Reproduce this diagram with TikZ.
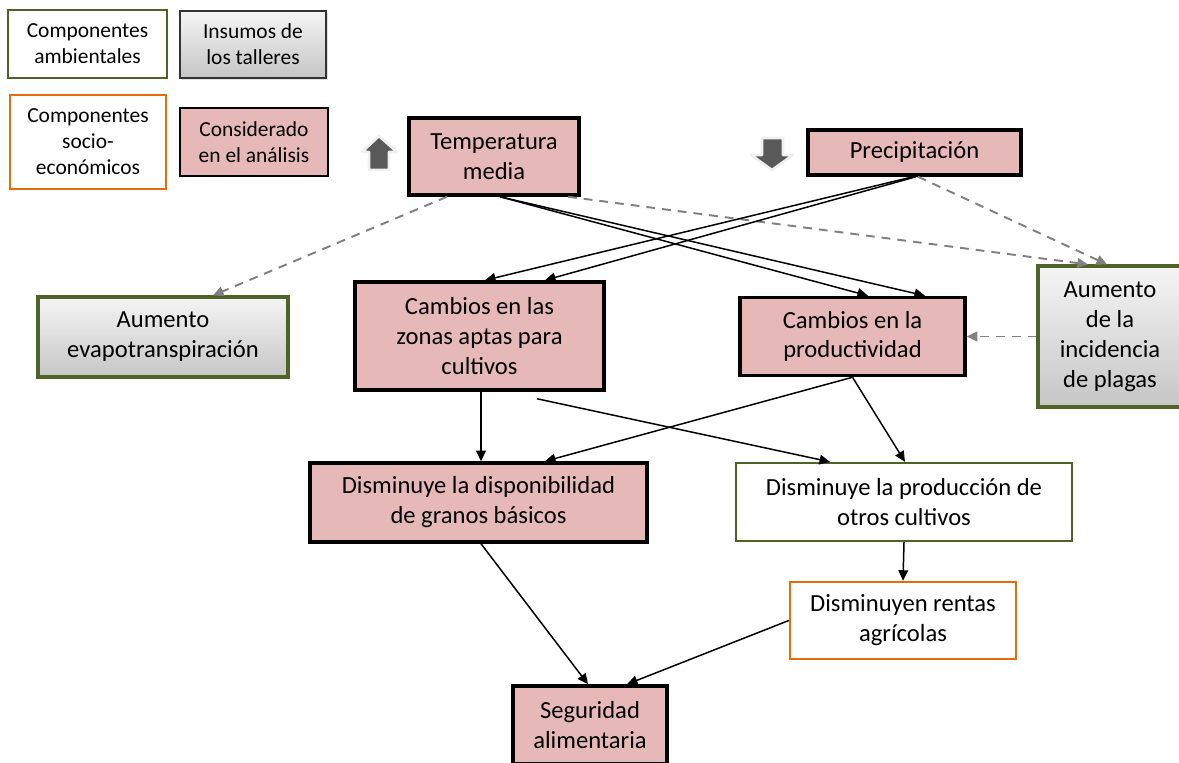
\documentclass[tikz,border=0pt]{standalone}
\usepackage{fontspec}
\setmainfont{Carlito}
\usetikzlibrary{arrows.meta,shadows}
\definecolor{rosa}{HTML}{E6B9B8}
\definecolor{verde}{HTML}{4F6228}
\definecolor{naranja}{HTML}{E46C0A}
\definecolor{flecha}{HTML}{595959}
\begin{document}
\begin{tikzpicture}[x=0.02cm, y=-0.02cm,
    caja/.style={align=center, inner sep=2pt, font=\fontsize{14}{17}\selectfont},
    leyenda/.style={align=center, inner sep=2pt, font=\fontsize{12.2}{14.8}\selectfont},
    rosabox/.style={fill=rosa, draw=black, line width=2pt},
    verdebox/.style={fill=white, draw=verde, line width=1.8pt},
    naranjabox/.style={fill=white, draw=naranja, line width=1.6pt},
    grisbox/.style={top color=gray!8, bottom color=gray!45, drop shadow={opacity=0.25, shadow xshift=1pt, shadow yshift=-1.2pt}},
    rel/.style={-{Triangle[length=6pt,width=5.5pt]}, black, line width=0.85pt},
    rela/.style={-{Triangle[length=6pt,width=5.5pt]}, gray, line width=1.1pt, dash pattern=on 5pt off 4pt}]
    \useasboundingbox (0,0) rectangle (1179,763);
    % leyenda
    \node[leyenda, verdebox, line width=1.6pt, minimum width=3.18cm, minimum height=1.36cm] (legamb) at (87.5,44) {Componentes\\ambientales};
    \node[leyenda, grisbox, draw=black!80, line width=0.6pt, minimum width=2.92cm, minimum height=1.34cm] (legins) at (253,44.5) {Insumos de\\los talleres};
    \node[leyenda, naranjabox, minimum width=3.12cm, minimum height=1.88cm] (legsoc) at (88,142) {Componentes\\socio-\\económicos};
    \node[leyenda, fill=rosa, draw=black, line width=0.7pt, minimum width=2.96cm, minimum height=1.36cm] (legcon) at (254,142) {Considerado\\en el análisis};
    % flechas de tendencia
    \filldraw[fill=flecha, draw=gray!12, line width=1.5pt, line join=round] (379,136) -- (397,152) -- (389,152) -- (389,170) -- (369,170) -- (369,152) -- (362,152) -- cycle;
    \filldraw[fill=flecha, draw=gray!12, line width=1.5pt, line join=round] (772,170) -- (793,155) -- (783,155) -- (783,138) -- (762,138) -- (762,155) -- (751,155) -- cycle;
    % componentes
    \node[caja, rosabox, minimum width=3.4cm, minimum height=1.54cm] (temp) at (494,156.5) {Temperatura\\media};
    \node[caja, rosabox, minimum width=4.26cm, minimum height=0.9cm] (prec) at (914.5,152.5) {Precipitación};
    \node[caja, grisbox, draw=verde, line width=1.8pt, minimum width=5cm, minimum height=1.6cm] (evap) at (163,337) {Aumento\\evapotranspiración};
    \node[caja, rosabox, minimum width=4.98cm, minimum height=2.16cm] (zonas) at (479.5,336) {Cambios en las\\zonas aptas para\\cultivos};
    \node[caja, rosabox, minimum width=4.5cm, minimum height=1.56cm] (prod) at (852.5,336.5) {Cambios en la\\productividad};
    \node[caja, grisbox, draw=verde, line width=1.8pt, minimum width=2.88cm, minimum height=2.82cm] (plagas) at (1110,336.5) {Aumento\\de la\\incidencia\\de plagas};
    \node[caja, rosabox, minimum width=6.74cm, minimum height=1.58cm] (granos) at (478.5,502.5) {Disminuye la disponibilidad\\de granos básicos};
    \node[caja, verdebox, line width=1.3pt, minimum width=6.72cm, minimum height=1.56cm] (otros) at (904,502) {Disminuye la producción de\\otros cultivos};
    \node[caja, naranjabox, line width=1.4pt, minimum width=4.52cm, minimum height=1.54cm] (rentas) at (903,620.5) {Disminuyen rentas\\agrícolas};
    \node[caja, rosabox, minimum width=3.08cm, minimum height=1.56cm] (seg) at (590,725) {Seguridad\\alimentaria};
    % relaciones
    \draw[rela] ([xshift=-0.94cm]temp.south) -- ([xshift=1cm]evap.north);
    \draw[rela] ([xshift=1.48cm]temp.south) -- ([xshift=-0.44cm]plagas.north);
    \draw[rela] ([xshift=0.07cm]prec.south) -- ([xshift=-0.06cm]plagas.north);
    \draw[rela] (plagas.west) -- (prod.east);
    \draw[rel] ([xshift=0.12cm]temp.south) -- ([xshift=0.31cm]prod.north);
    \draw[rel] ([xshift=0.12cm]temp.south) -- ([xshift=1.45cm]prod.north);
    \draw[rel] ([xshift=-0.03cm]prec.south) -- ([xshift=0.11cm]zonas.north);
    \draw[rel] ([xshift=0.03cm]prec.south) -- ([xshift=1.31cm]zonas.north);
    \draw[rel] ([xshift=0.03cm]zonas.south) -- ([xshift=0.05cm]granos.north);
    \draw[rel] ([shift={(1.15cm,-0.14cm)}]zonas.south) -- ([xshift=-1.48cm]otros.north);
    \draw[rel] (prod.south) -- ([xshift=1.33cm]granos.north);
    \draw[rel] (prod.south) -- ([xshift=0.02cm]otros.north);
    \draw[rel] (otros.south) -- (rentas.north);
    \draw[rel] ([xshift=0.05cm]granos.south) -- ([xshift=-0.04cm]seg.north);
    \draw[rel] (rentas.west) -- ([xshift=0.74cm]seg.north);
\end{tikzpicture}
\end{document}
